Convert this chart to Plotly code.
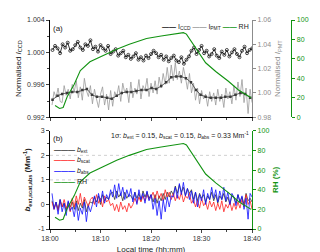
import pandas as pd
import plotly.graph_objects as go

T0 = pd.Timestamp("2019-01-01 18:00:00")

# ---- panel (a) data ----
ccd_step = 0.5  # minutes
i_ccd = [1.0003, 1.0008, 1.0005, 0.9999, 1.0010, 1.0006, 1.0012, 1.0002, 1.0004, 1.0009,
         1.0013, 1.0006, 1.0003, 1.0010, 1.0008, 1.0015, 1.0004, 1.0007, 1.0001, 1.0009,
         1.0005, 1.0002, 1.0008, 0.9998, 1.0001, 1.0004, 0.9996, 0.9999, 1.0002, 0.9994,
         0.9997, 0.9992, 0.9995, 0.9999, 0.9991, 0.9994, 0.9990, 0.9996, 0.9993, 0.9998,
         1.0002, 0.9999, 0.9994, 0.9997, 0.9991, 0.9995, 0.9989, 0.9993, 0.9996, 0.9990,
         0.9988, 0.9994, 0.9986, 0.9991, 0.9995, 1.0002, 1.0006, 0.9998, 1.0003, 1.0008,
         0.9999, 1.0002, 0.9995, 0.9998, 1.0004, 0.9996, 0.9993, 1.0001, 0.9997, 1.0003,
         0.9995, 1.0000, 1.0004, 0.9998, 0.9994, 1.0002, 1.0007, 0.9999, 1.0003, 1.0005]

pmt_step = 0.4
i_pmt = [0.990, 1.001, 0.996, 1.004, 0.993, 0.992, 1.006, 0.998, 1.003, 0.995,
         1.007, 1.001, 1.010, 0.996, 1.005, 0.994, 1.012, 1.002, 0.997, 1.006,
         0.991, 1.003, 0.995, 0.988, 0.999, 1.005, 0.990, 0.999, 0.986, 1.002,
         0.989, 1.001, 0.997, 1.006, 0.993, 1.008, 1.000, 1.004, 0.992, 1.009,
         0.996, 1.004, 0.999, 1.011, 0.995, 1.006, 1.002, 1.012, 0.997, 1.008,
         1.000, 1.010, 0.999, 1.013, 1.004, 1.016, 1.007, 1.021, 1.008, 1.023,
         1.010, 1.025, 1.011, 1.018, 1.008, 1.021, 1.013, 1.003, 1.016, 1.000,
         1.008, 0.994, 1.004, 0.991, 1.002, 0.995, 0.999, 0.989, 1.001, 0.993,
         1.000, 0.990, 1.003, 0.993, 0.999, 0.988, 1.004, 0.995, 1.001, 0.991,
         1.006, 0.994, 1.009, 0.997, 1.011, 0.992, 1.004, 0.983, 1.003, 0.992]

pmt_avg_t = [0.5, 1.5, 2.4, 3.4, 4.4, 5.4, 6.4, 7.3, 8.3, 9.3, 10.3, 11.3, 12.2, 13.2,
             14.2, 15.2, 16.1, 17.1, 18.1, 19.1, 20.1, 21.0, 22.0, 23.0, 24.0, 25.0,
             25.9, 26.9, 27.9, 28.9, 29.8, 30.8, 31.8, 32.8, 33.8, 34.7, 35.7, 36.7,
             37.7, 38.6, 39.6]
pmt_avg = [0.9944, 0.9976, 0.9992, 1.0000, 1.0008, 1.0008, 1.0024, 1.0032, 0.9984,
           0.9968, 0.9968, 0.9960, 0.9952, 0.9976, 1.0000, 1.0008, 1.0008, 1.0016,
           1.0024, 1.0024, 1.0040, 1.0032, 1.0056, 1.0088, 1.0128, 1.0136, 1.0136,
           1.0120, 1.0088, 1.0024, 0.9984, 0.9968, 0.9960, 0.9960, 0.9960, 0.9968,
           0.9968, 0.9984, 1.0000, 0.9992, 0.9960]

rh_t = [1.0, 1.9, 2.6, 3.4, 4.8, 6.0, 7.9, 10.7, 13.2, 15.7, 19.1, 22.0, 26.4, 27.0,
        28.5, 29.8, 30.8, 32.8, 35.3, 37.3, 39.8]
rh = [12, 9, 10, 21, 34, 48, 57, 64, 70, 75, 81, 83.5, 87, 85.5, 74, 64, 56, 47, 37, 28, 20]

# ---- panel (b) data ----
b_step = 0.4
b_ext = [0.15, -0.15, 0.1, -0.2, 0.2, -0.1, 0.05, -0.25, 0.1, -0.1,
         0.1, -0.2, 0.15, -0.25, 0.05, -0.15, 0.2, -0.3, 0.0, 0.1,
         0.05, 0.3, 0.1, 0.35, 0.0, 0.4, 0.15, 0.3, 0.2, 0.45,
         0.5, 0.2, 0.55, 0.3, 0.45, 0.15, 0.5, 0.25, 0.4, 0.35,
         0.2, 0.5, 0.25, 0.45, 0.15, 0.55, 0.3, 0.5, 0.25, 0.4,
         0.1, 0.4, 0.05, 0.35, 0.15, 0.45, 0.2, 0.5, 0.3, 0.55,
         0.4, 0.75, 0.45, 0.8, 0.5, 0.7, 0.35, 0.65, 0.45, 0.6,
         0.2, 0.5, 0.15, 0.45, 0.25, 0.4, 0.1, 0.35, 0.2, 0.5,
         0.15, 0.4, 0.05, 0.35, 0.2, 0.45, 0.1, 0.3, 0.0, 0.35,
         0.3, 0.05, 0.4, 0.1, 0.3, 0.0, 0.45, 0.15, 0.25, 0.1]
b_scat = [0.1, -0.2, 0.05, -0.25, 0.15, -0.1, 0.2, -0.15, 0.0, -0.3,
          0.25, -0.1, 0.35, 0.0, 0.45, -0.05, 0.3, 0.1, -0.1, 0.2,
          0.3, 0.0, 0.4, 0.05, 0.25, -0.1, 0.35, 0.1, 0.2, -0.05,
          0.05, -0.25, 0.0, -0.3, 0.1, -0.2, -0.05, -0.3, 0.05, -0.15,
          0.0, 0.25, 0.05, 0.3, 0.1, 0.35, 0.15, 0.4, 0.2, 0.3,
          0.5, 0.2, 0.55, 0.25, 0.45, 0.15, 0.6, 0.3, 0.5, 0.2,
          0.45, 0.15, 0.4, 0.2, 0.5, 0.1, 0.35, 0.25, 0.45, 0.05,
          0.2, -0.1, 0.15, -0.15, 0.25, -0.05, 0.1, -0.2, 0.15, -0.1,
          0.1, -0.25, 0.05, -0.2, 0.15, -0.3, 0.0, -0.15, 0.1, -0.25,
          0.05, -0.2, 0.1, -0.15, 0.2, -0.1, 0.4, 0.0, 0.15, -0.2]
b_abs = [0.45, -0.2, 0.1, -0.4, 0.2, -0.3, 0.05, -0.45, 0.15, -0.25,
         -0.1, -0.5, 0.05, -0.65, -0.15, -0.4, 0.1, -0.7, -0.05, -0.3,
         0.0, 0.35, -0.1, 0.45, 0.1, 0.55, 0.05, 0.4, 0.2, 0.6,
         0.3, 0.8, 0.25, 0.85, 0.35, 0.7, 0.2, 0.6, 0.3, 0.65,
         0.1, 0.5, 0.0, 0.6, 0.2, 0.45, 0.05, 0.55, 0.15, 0.4,
         -0.2, 0.25, -0.45, 0.15, -0.6, 0.2, -0.3, 0.3, -0.1, 0.35,
         0.3, 0.7, 0.25, 0.85, 0.4, 0.9, 0.35, 0.65, 0.2, 0.55,
         0.05, 0.5, -0.1, 0.4, 0.15, 0.6, 0.0, 0.45, 0.2, 0.7,
         0.25, 0.6, 0.1, 0.55, 0.2, 0.7, 0.15, 0.5, 0.0, 0.45,
         0.3, -0.05, 0.4, 0.1, 0.35, -0.2, 0.25, -0.6, 0.45, 0.3]

# ---- tick labels ----
x_ticks = ["18:00", "18:10", "18:20", "18:30", "18:40"]
ccd_ticks = [0.992, 0.996, 1.000, 1.004]
ccd_ticktext = ["0.992", "0.996", "1.000", "1.004"]
pmt_ticks = [0.98, 1.00, 1.02, 1.04, 1.06]
pmt_ticktext = ["0.98", "1.00", "1.02", "1.04", "1.06"]
rh_ticks = [0, 20, 40, 60, 80, 100]
rh_ticktext = ["0", "20", "40", "60", "80", "100"]
b_ticks = [-1, 0, 1, 2, 3]
b_ticktext = ["-1", "0", "1", "2", "3"]


def times(n, step):
    return [T0 + pd.Timedelta(minutes=step * (k + 1)) for k in range(n)]


def tmins(ts):
    return [T0 + pd.Timedelta(minutes=m) for m in ts]


FONT = "Liberation Sans, Arial, sans-serif"
GREEN = "#129312"
GRAY = "#8c8c8c"
C_EXT, C_SCAT, C_ABS = "#333333", "#ff2020", "#1010ff"

fig = go.Figure()

# panel (a)
fig.add_trace(go.Scatter(x=times(len(i_ccd), ccd_step), y=i_ccd, mode="lines+markers",
                         name="I_CCD", line=dict(color="black", width=0.8),
                         marker=dict(symbol="circle-open", size=3, color="black", line=dict(width=0.7)),
                         xaxis="x", yaxis="y", showlegend=False))
fig.add_trace(go.Scatter(x=times(len(i_pmt), pmt_step), y=i_pmt, mode="lines",
                         name="I_PMT", line=dict(color="#9a9a9a", width=0.8),
                         xaxis="x", yaxis="y2", showlegend=False))
fig.add_trace(go.Scatter(x=tmins(pmt_avg_t), y=pmt_avg, mode="lines+markers",
                         showlegend=False, line=dict(color="#4a4a4a", width=0.9),
                         marker=dict(symbol="square", size=2.5, color="#3a3a3a"),
                         xaxis="x", yaxis="y2"))
fig.add_trace(go.Scatter(x=tmins(rh_t), y=rh, mode="lines", name="RH",
                         line=dict(color=GREEN, width=1.1),
                         xaxis="x", yaxis="y3", showlegend=False))

# panel (b)
fig.add_trace(go.Scatter(x=times(len(b_ext), b_step), y=b_ext, mode="lines",
                         name="b_ext", line=dict(color=C_EXT, width=0.8),
                         xaxis="x2", yaxis="y4", showlegend=False))
fig.add_trace(go.Scatter(x=times(len(b_scat), b_step), y=b_scat, mode="lines",
                         name="b_scat", line=dict(color=C_SCAT, width=0.8),
                         xaxis="x2", yaxis="y4", showlegend=False))
fig.add_trace(go.Scatter(x=times(len(b_abs), b_step), y=b_abs, mode="lines",
                         name="b_abs", line=dict(color=C_ABS, width=0.8),
                         xaxis="x2", yaxis="y4", showlegend=False))
fig.add_trace(go.Scatter(x=tmins(rh_t), y=rh, mode="lines", name="RH",
                         line=dict(color=GREEN, width=1.1),
                         xaxis="x2", yaxis="y5", showlegend=False))

XD = [0, 0.7744]
xr = [T0, T0 + pd.Timedelta(minutes=40)]
tickvals = [T0 + pd.Timedelta(minutes=10 * k) for k in range(5)]
axis_common = dict(showline=True, linecolor="black", linewidth=1, ticks="outside",
                   ticklen=3, tickfont=dict(size=7, color="#333"), showgrid=False,
                   zeroline=False)


def sw(color, n=2):
    return '<span style="color:%s"><b>%s</b></span>' % (color, "\u2014" * n)


legend_a = (sw("#111111") + " I<sub>CCD</sub> " + sw("#999999") + " I<sub>PMT</sub> "
            + sw(GREEN) + " RH")
legend_b = [(sw(C_EXT, 3) + " <i>b</i><sub>ext</sub>", 0.3767),
            (sw(C_SCAT, 3) + " <i>b</i><sub>scat</sub>", 0.330),
            (sw(C_ABS, 3) + " <i>b</i><sub>abs</sub>", 0.279),
            (sw(GREEN, 3) + " RH", 0.228)]

annotations = [
    dict(text="(a)", x=0.005, y=0.99, xref="paper", yref="paper", xanchor="left",
         yanchor="top", showarrow=False, font=dict(size=8)),
    dict(text="(b)", x=0.005, y=0.465, xref="paper", yref="paper", xanchor="left",
         yanchor="top", showarrow=False, font=dict(size=8)),
    dict(text="1σ: <i>b</i><sub>ext</sub> = 0.15, <i>b</i><sub>scat</sub> = 0.15, "
              "<i>b</i><sub>abs</sub> = 0.33 Mm<sup>-1</sup>",
         x=0.772, y=0.478, xref="paper", yref="paper", xanchor="right", yanchor="top",
         showarrow=False, font=dict(size=7)),
    dict(text=legend_a, x=0.77, y=0.967, xref="paper", yref="paper", xanchor="right",
         yanchor="middle", showarrow=False, font=dict(size=7)),
]
for txt, yy in legend_b:
    annotations.append(dict(text=txt, x=0.006, y=yy, xref="paper", yref="paper",
                            xanchor="left", yanchor="middle", showarrow=False,
                            font=dict(size=7)))

fig.update_layout(
    width=320, height=252,
    margin=dict(l=42, r=12, t=8, b=29),
    paper_bgcolor="white", plot_bgcolor="white",
    font=dict(family=FONT, size=8, color="#222"),
    showlegend=False,
    xaxis=dict(domain=XD, anchor="y", range=xr, tickvals=tickvals, showticklabels=False,
               minor=dict(dtick=300000, ticks="outside", ticklen=2), **axis_common),
    yaxis=dict(domain=[0.5349, 1], anchor="x", range=[0.992, 1.004],
               tickvals=ccd_ticks, ticktext=ccd_ticktext,
               minor=dict(dtick=0.002, ticks="outside", ticklen=2),
               title=dict(text="Normalised <i>I</i><sub>CCD</sub>", font=dict(size=8), standoff=4),
               **axis_common),
    yaxis2=dict(overlaying="y", side="right", anchor="x", range=[0.98, 1.06],
                tickvals=pmt_ticks, ticktext=pmt_ticktext,
                showline=True, linecolor=GRAY, ticks="outside", ticklen=3,
                tickcolor=GRAY, tickfont=dict(size=7, color=GRAY), showgrid=False,
                zeroline=False,
                title=dict(text="Normalised <i>I</i><sub>PMT</sub>", font=dict(size=8, color=GRAY), standoff=4)),
    yaxis3=dict(overlaying="y", side="right", anchor="free", position=0.9248,
                range=[0, 100], tickvals=rh_ticks, ticktext=rh_ticktext,
                showline=True, linecolor=GREEN, linewidth=1.2,
                ticks="outside", ticklen=3, tickcolor=GREEN,
                tickfont=dict(size=7, color=GREEN), showgrid=False, zeroline=False,
                title=dict(text="<b>RH (%)</b>", font=dict(size=8, color=GREEN), standoff=4)),
    xaxis2=dict(domain=XD, anchor="y4", range=xr, tickvals=tickvals, ticktext=x_ticks,
                minor=dict(dtick=300000, ticks="outside", ticklen=2),
                title=dict(text="Local time (hh:mm)", font=dict(size=8), standoff=4),
                **axis_common),
    yaxis4=dict(domain=[0, 0.4698], anchor="x2", range=[-1, 3],
                tickvals=b_ticks, ticktext=b_ticktext,
                minor=dict(dtick=0.5, ticks="outside", ticklen=2),
                title=dict(text="<b><i>b</i><sub>ext,scat,abs</sub> (Mm<sup>-1</sup>)</b>",
                           font=dict(size=8), standoff=6),
                **axis_common),
    yaxis5=dict(overlaying="y4", side="right", anchor="x2", range=[0, 100],
                tickvals=rh_ticks, ticktext=rh_ticktext,
                showline=True, linecolor=GREEN, linewidth=1.2, ticks="outside", ticklen=3,
                tickcolor=GREEN, tickfont=dict(size=7, color=GREEN), showgrid=False,
                zeroline=False,
                title=dict(text="<b>RH (%)</b>", font=dict(size=8, color=GREEN), standoff=4)),
    annotations=annotations,
    shapes=[
        dict(type="line", xref="x2 domain", x0=0, x1=1, yref="y4", y0=1, y1=1,
             line=dict(color="#bbbbbb", width=0.7, dash="dot"), layer="below"),
        dict(type="line", xref="x2 domain", x0=0, x1=1, yref="y4", y0=2, y1=2,
             line=dict(color="#bbbbbb", width=0.7, dash="dot"), layer="below"),
    ],
)

fig.write_html("out.html")
